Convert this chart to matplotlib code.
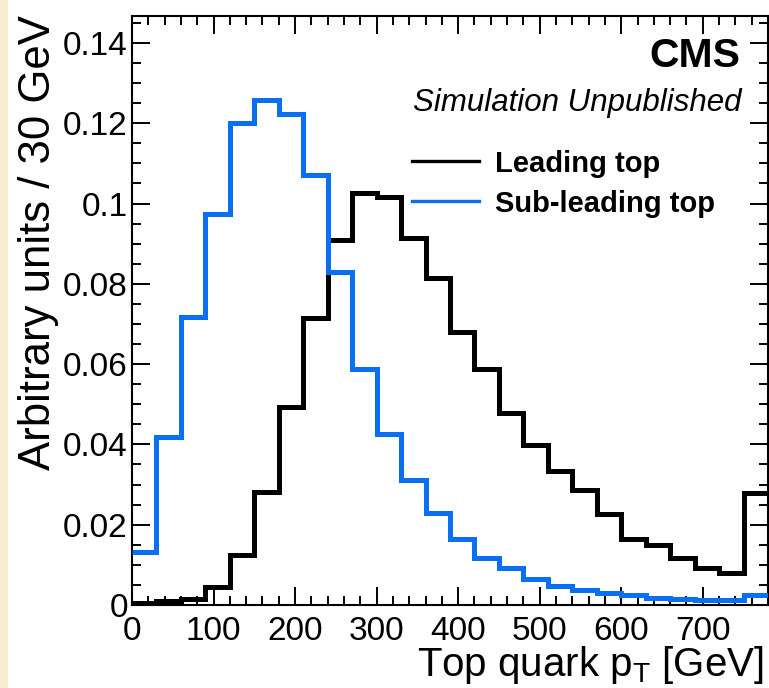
import numpy as np
import matplotlib
matplotlib.use("Agg")
from matplotlib import pyplot as plt
from matplotlib.ticker import MultipleLocator, FuncFormatter
from matplotlib.patches import Rectangle
from matplotlib.lines import Line2D

# 30 GeV bins from 0 to 780 GeV (last bin holds the overflow)
bin_edges = np.arange(0, 781, 30)

leading_top = [0.0004, 0.0009, 0.0014, 0.0046, 0.0125, 0.0282, 0.0494, 0.0714,
               0.0909, 0.1025, 0.1017, 0.0913, 0.0815, 0.0680, 0.0589, 0.0477,
               0.0398, 0.0334, 0.0286, 0.0227, 0.0164, 0.0149, 0.0116, 0.0093,
               0.0080, 0.0278]
subleading_top = [0.0133, 0.0419, 0.0718, 0.0975, 0.1201, 0.1257, 0.1224, 0.1071,
                  0.0830, 0.0589, 0.0425, 0.0311, 0.0230, 0.0164, 0.0116, 0.0093,
                  0.0066, 0.0047, 0.0037, 0.0029, 0.0025, 0.0018, 0.0014, 0.0012,
                  0.0012, 0.0025]

labels = ["Leading top", "Sub-leading top"]
colors = ["black", "#0a6ff2"]

plt.rcParams['font.family'] = ['Liberation Sans', 'DejaVu Sans']
plt.rcParams['mathtext.fontset'] = 'custom'
plt.rcParams['mathtext.rm'] = 'Liberation Sans'

W, H = 769, 688
fig = plt.figure(figsize=(W / 100, H / 100), dpi=100)
fig.patches.append(Rectangle((0, 0), 8 / W, 1, transform=fig.transFigure,
                             facecolor="#f8edd0", edgecolor="none", zorder=0))
ax = fig.add_axes([132 / W, 1 - 605 / H, 636 / W, 589 / H])

ax.stairs(leading_top, bin_edges, baseline=None, color=colors[0], lw=3.6, zorder=3)
ax.stairs(subleading_top, bin_edges, baseline=None, color=colors[1], lw=3.6, zorder=4)

ax.set_xlim(0, 780)
ax.set_ylim(0, 0.1467)

ax.xaxis.set_major_locator(MultipleLocator(100))
ax.xaxis.set_minor_locator(MultipleLocator(20))
ax.yaxis.set_major_locator(MultipleLocator(0.02))
ax.yaxis.set_minor_locator(MultipleLocator(0.005))
ax.yaxis.set_major_formatter(FuncFormatter(lambda v, p: "%g" % round(v, 3)))
ax.tick_params(which="both", direction="in", top=True, right=True, width=1.4)
ax.tick_params(which="major", length=13, labelsize=24)
ax.tick_params(which="minor", length=6.5)
ax.tick_params(axis="x", pad=8)
ax.tick_params(axis="y", pad=3)
for s in ax.spines.values():
    s.set_linewidth(1.5)

# axis titles, ROOT style (right / top aligned)
fig.text(764 / W, 1 - 676 / H, r"Top quark p$_\mathregular{T}$ [GeV]", fontsize=29,
         ha="right", va="baseline")
fig.text(50 / W, 1 - 15 / H, "Arbitrary units / 30 GeV", fontsize=31.5,
         rotation=90, rotation_mode="anchor", ha="right", va="baseline")

ax.text(0.957, 0.9134, "CMS", transform=ax.transAxes, ha="right", va="baseline",
        fontsize=29.5, fontweight="bold")
ax.text(0.959, 0.8387, "Simulation Unpublished", transform=ax.transAxes, ha="right",
        va="baseline", fontsize=22.5, style="italic")

handles = [Line2D([], [], color=c, lw=2.4) for c in colors]
ax.legend(handles, labels, loc="upper left", bbox_to_anchor=(0.4398, 0.773),
          frameon=False, prop={"weight": "bold", "size": 21},
          handlelength=2.3, handletextpad=0.55, labelspacing=0.41,
          borderaxespad=0, borderpad=0)

fig.savefig("out.png", dpi=100)
